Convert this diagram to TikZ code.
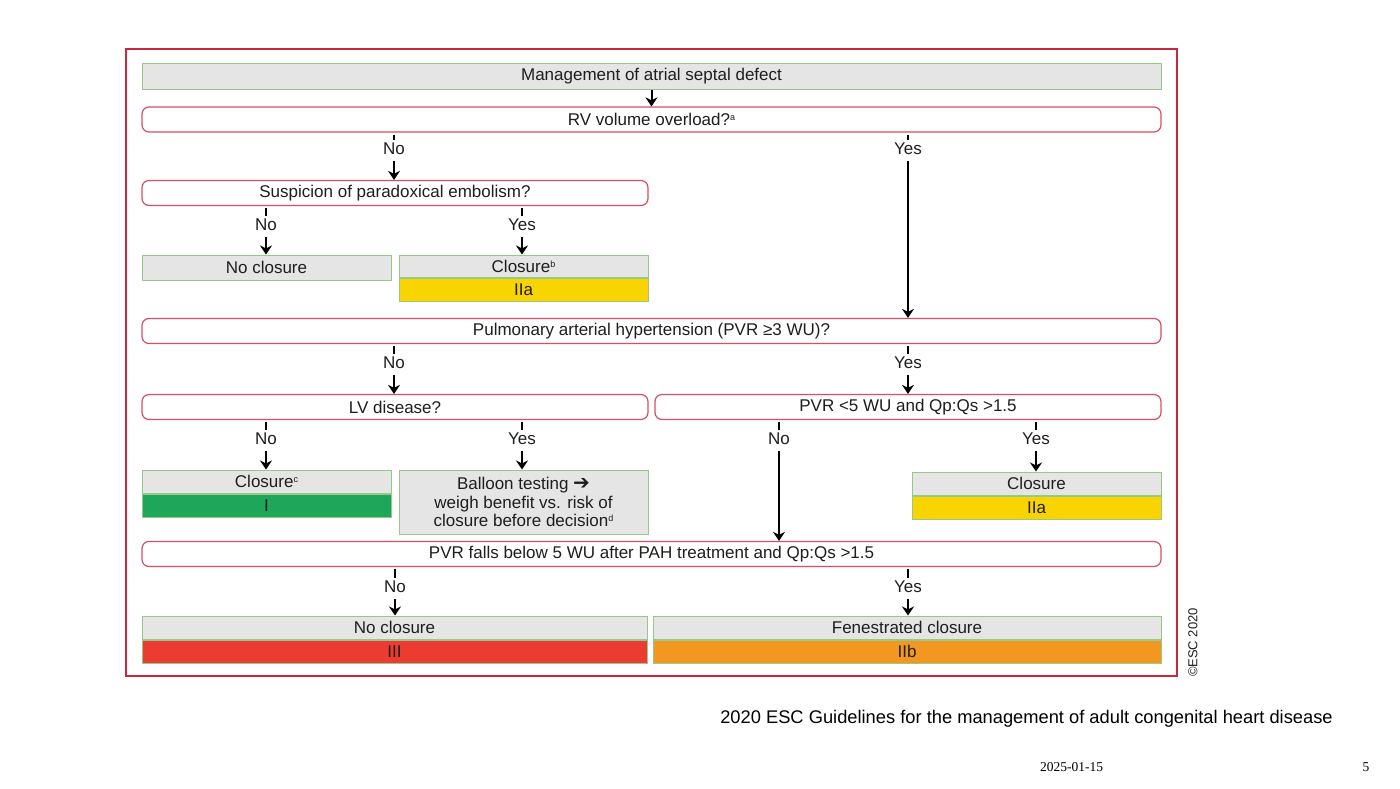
\documentclass[tikz,border=0pt]{standalone}
\usepackage{fontspec}
\setmainfont{Liberation Sans}
\newfontfamily\datefont{Liberation Serif}
\newfontfamily\symfont{DejaVu Sans}
\usetikzlibrary{calc,arrows.meta,positioning,shapes}
\definecolor{escred}{RGB}{198, 40, 64}
\definecolor{qred}{RGB}{214, 78, 104}
\definecolor{boxgray}{RGB}{229, 229, 229}
\definecolor{boxgreen}{RGB}{150, 200, 135}
\definecolor{classI}{RGB}{30, 166, 90}
\definecolor{classIIa}{RGB}{250, 212, 0}
\definecolor{classIIb}{RGB}{242, 152, 32}
\definecolor{classIII}{RGB}{236, 60, 50}
\definecolor{inktext}{RGB}{30, 30, 30}
\newcommand{\flowfont}{\fontsize{17}{18.5}\selectfont}
\newcommand{\fnmark}[1]{\raisebox{5pt}{\fontsize{9}{9}\selectfont #1}}
\tikzset{
  qbox/.style={draw=qred, fill=white, line width=1.2pt, rectangle, rounded corners=7pt, minimum height=25pt, inner sep=0pt, text=inktext, font=\flowfont},
  gbox/.style={draw=boxgreen, fill=boxgray, line width=1pt, rectangle, minimum height=23pt, inner sep=0pt, align=center, text=inktext, font=\flowfont},
  lbl/.style={inner sep=3pt, text=inktext, font=\flowfont},
  arrow/.style={-{Stealth[length=9pt, width=12pt]}, line width=2pt, shorten <=3pt},
  tick/.style={line width=2pt, shorten <=2pt}
}

\begin{document}
\begin{tikzpicture}[x=1pt, y=-1pt]
  \fill [white] (0,0) rectangle (1400,788);
  \useasboundingbox (0,0) rectangle (1400,788);
  \draw [escred, line width=2pt] (126,49) rectangle (1177,676);

  % first level
  \node [gbox, minimum width=1019pt, minimum height=26pt] (title) at (651.5,76) {Management of atrial septal defect};
  \node [qbox, minimum width=1019pt] (rv) at (651.5,119.5) {RV volume overload?\fnmark{a}};
  \node [lbl] (rvno) at (394,149) {No};
  \node [lbl] (rvyes) at (908,149) {Yes};

  % paradoxical embolism
  \node [qbox, minimum width=506pt] (susp) at (395,193) {Suspicion of paradoxical embolism?};
  \node [lbl] (suspno) at (266,225) {No};
  \node [lbl] (suspyes) at (522,225) {Yes};
  \node [gbox, minimum width=249pt, minimum height=25pt] (noclosA) at (266.5,267.5) {No closure};
  \node [gbox, minimum width=249pt, minimum height=22pt] (closA) at (523.5,266) {Closure\fnmark{b}};
  \node [gbox, fill=classIIa, minimum width=249pt, below=0pt of closA] (closAcls) {IIa};

  % pulmonary hypertension
  \node [qbox, minimum width=1019pt] (pah) at (651.5,331) {Pulmonary arterial hypertension (PVR ≥3 WU)?};
  \node [lbl] (pahno) at (394,363) {No};
  \node [lbl] (pahyes) at (908,363) {Yes};
  \node [qbox, minimum width=506pt] (lv) at (395,407) {LV disease?};
  \node [qbox, minimum width=506pt] (pvr) at (908,407) {PVR <5 WU and Qp:Qs >1.5};
  \node [lbl] (lvno) at (266,439) {No};
  \node [lbl] (lvyes) at (522,439) {Yes};
  \node [lbl] (pvrno) at (779,439) {No};
  \node [lbl] (pvryes) at (1036,439) {Yes};
  \node [gbox, minimum width=249pt] (closB) at (266.5,481.5) {Closure\fnmark{c}};
  \node [gbox, fill=classI, minimum width=249pt, below=0pt of closB] (closBcls) {I};
  \node [gbox, minimum width=249pt, minimum height=64pt] (balloon) at (523.5,502) {Balloon testing {\symfont\fontsize{20}{18.5}\selectfont ➔}\\weigh benefit vs. risk of\\closure before decision\fnmark{d}};
  \node [gbox, minimum width=249pt] (closC) at (1036.5,483.5) {Closure};
  \node [gbox, fill=classIIa, minimum width=249pt, below=0pt of closC] (closCcls) {IIa};

  % after treatment
  \node [qbox, minimum width=1019pt] (falls) at (651.5,554) {PVR falls below 5 WU after PAH treatment and Qp:Qs >1.5};
  \node [lbl] (fallsno) at (395,587) {No};
  \node [lbl] (fallsyes) at (908,587) {Yes};
  \node [gbox, minimum width=505pt] (noclosB) at (394.5,627.5) {No closure};
  \node [gbox, fill=classIII, minimum width=505pt, below=0pt of noclosB] (noclosBcls) {III};
  \node [gbox, minimum width=508pt] (fen) at (907,627.5) {Fenestrated closure};
  \node [gbox, fill=classIIb, minimum width=508pt, below=0pt of fen] (fencls) {IIb};

  \draw [arrow, shorten <=0pt] (title.south) -- (rv.north);
  \foreach \lb/\src/\dst in {rvno/rv/susp, rvyes/rv/pah, suspno/susp/noclosA, suspyes/susp/closA,
      pahno/pah/lv, pahyes/pah/pvr, lvno/lv/closB, lvyes/lv/balloon, pvrno/pvr/falls,
      pvryes/pvr/closC, fallsno/falls/noclosB, fallsyes/falls/fen} {
    \draw [tick] (\src.south -| \lb) -- (\lb.north);
    \draw [arrow] (\lb.south) -- (\lb |- \dst.north);
  }

  \node [rotate=90, text=inktext, font=\fontsize{13}{15}\selectfont] (esc) at (1193,642.5) {©ESC 2020};
  \node [font=\fontsize{18.3}{22}\selectfont] (footer) at (1026.5,719) {2020 ESC Guidelines for the management of adult congenital heart disease};
  \node [font=\datefont\fontsize{13.5}{16}\selectfont] (date) at (1071.5,767) {2025-01-15};
  \node [font=\datefont\fontsize{13.5}{16}\selectfont] (pageno) at (1366,767) {5};
\end{tikzpicture}
\end{document}
